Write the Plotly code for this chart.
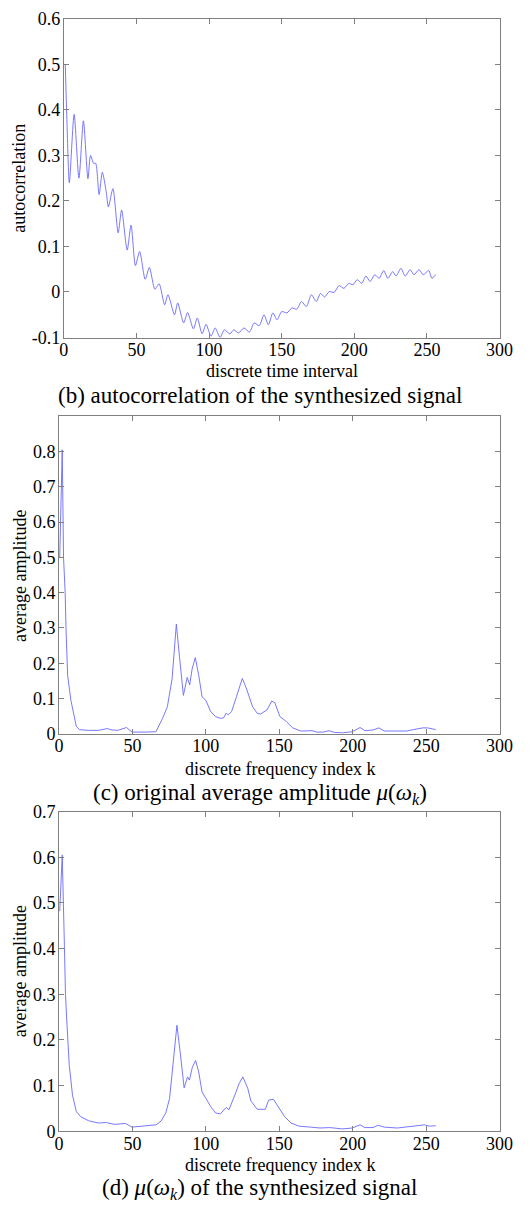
import plotly.graph_objects as go

# (b) autocorrelation of the synthesized signal: lag vs value at turning points
lag_b = [1, 2.2, 3.8, 7.1, 10.4, 13.5, 16.6, 18.4, 20.6, 21.9, 24.3, 26.5, 29.2, 30.7,
         33.8, 37.4, 39.8, 43.6, 46.3, 49.3, 52.2, 56, 58.9, 62.7, 65.6, 69.4, 71.7,
         76.2, 78.4, 82.5, 85.2, 89.2, 91.9, 95.2, 97.9, 101.3, 104.2, 107.6, 110.5,
         114.3, 117, 120.3, 124, 127.8, 131, 134.5, 137.8, 140.8, 143.9, 146.8, 150,
         153.6, 157, 160.3, 163.6, 167, 170.4, 173.8, 176.7, 179.5, 182.7, 186, 189.5,
         192.8, 196.2, 199, 202, 205, 208, 210.8, 214.1, 217, 220.2, 223.1, 226.5,
         228.7, 232.1, 235, 238.4, 241.1, 244.5, 247.4, 251.2, 253.4, 256]
acf_b = [0.50, 0.37, 0.24, 0.39, 0.25, 0.376, 0.249, 0.30, 0.282, 0.283, 0.214, 0.263,
         0.22, 0.187, 0.227, 0.130, 0.18, 0.092, 0.147, 0.058, 0.089, 0.028, 0.054,
         0.006, 0.018, -0.028, -0.006, -0.050, -0.024, -0.068, -0.045, -0.081, -0.057,
         -0.092, -0.071, -0.097, -0.079, -0.100, -0.083, -0.092, -0.083, -0.090,
         -0.079, -0.088, -0.068, -0.074, -0.050, -0.072, -0.046, -0.061, -0.043,
         -0.046, -0.035, -0.038, -0.021, -0.032, -0.006, -0.021, -0.003, -0.011,
         0.001, -0.001, 0.014, 0.008, 0.019, 0.016, 0.027, 0.019, 0.035, 0.023, 0.038,
         0.030, 0.047, 0.030, 0.045, 0.035, 0.052, 0.035, 0.049, 0.038, 0.049, 0.038,
         0.047, 0.030, 0.038]

# (c) original average amplitude mu(omega_k)
k_c = [0.5, 2.2, 3.1, 4.2, 4.8, 5.9, 8.1, 9.6, 11.8, 14, 20, 27, 32.8, 36, 40, 46,
       49.7, 58, 66, 70.5, 73.8, 77, 79.9, 82, 84.7, 87.3, 89, 90.6, 92.8, 95.2,
       97.4, 100, 103.3, 106.6, 109.9, 112, 113.8, 115.3, 117.5, 120.8, 124.8, 127.5,
       131.8, 135, 137.2, 141.6, 144.9, 147, 150.4, 154.8, 159.1, 164.6, 172.3,
       175.6, 180, 183.9, 187.6, 193, 199.6, 205, 208.3, 213.8, 217.8, 221.5, 236.8,
       241.2, 247.8, 251, 256.5]
amp_c = [0.50, 0.805, 0.50, 0.40, 0.294, 0.165, 0.095, 0.068, 0.021, 0.012, 0.010,
         0.010, 0.015, 0.011, 0.010, 0.018, 0.005, 0.005, 0.006, 0.044, 0.077, 0.156,
         0.311, 0.22, 0.109, 0.16, 0.139, 0.183, 0.216, 0.165, 0.105, 0.095, 0.063,
         0.049, 0.044, 0.045, 0.058, 0.054, 0.063, 0.105, 0.157, 0.13, 0.077, 0.058,
         0.056, 0.068, 0.093, 0.088, 0.049, 0.035, 0.017, 0.008, 0.009, 0.005, 0.005,
         0.009, 0.004, 0.003, 0.006, 0.018, 0.009, 0.011, 0.017, 0.008, 0.008, 0.012,
         0.017, 0.017, 0.012]

# (d) average amplitude of the synthesized signal
k_d = [0.5, 2.2, 3.7, 4.4, 5.5, 7, 9.2, 11.8, 14.7, 20.1, 26.7, 32.2, 37.6, 45.3,
       49.7, 57.3, 66.1, 69.4, 72.7, 75.3, 77.5, 80.3, 82.5, 85.2, 87.5, 88.8, 90.8,
       93, 95.1, 97.4, 100, 103.3, 106.6, 109.9, 113.8, 115.7, 119.7, 122.6, 125.2,
       128.5, 130.7, 135, 140.5, 142.7, 146, 149.3, 153.6, 158, 163.5, 171.2, 177.7,
       184.3, 193, 199.6, 205, 208.3, 213.8, 217.1, 221.5, 230.3, 236.8, 243.4,
       248.9, 252.2, 256.5]
amp_d = [0.482, 0.605, 0.404, 0.302, 0.23, 0.144, 0.079, 0.043, 0.032, 0.023, 0.018,
         0.019, 0.015, 0.017, 0.009, 0.011, 0.014, 0.022, 0.040, 0.072, 0.144, 0.232,
         0.173, 0.095, 0.119, 0.112, 0.14, 0.155, 0.13, 0.086, 0.072, 0.054, 0.040,
         0.038, 0.052, 0.047, 0.079, 0.104, 0.119, 0.094, 0.066, 0.048, 0.048, 0.068,
         0.07, 0.054, 0.032, 0.018, 0.011, 0.009, 0.007, 0.008, 0.005, 0.007, 0.014,
         0.008, 0.008, 0.013, 0.009, 0.007, 0.009, 0.011, 0.014, 0.011, 0.012]

x_ticks = [0, 50, 100, 150, 200, 250, 300]
y_ticks_b = [-0.1, 0, 0.1, 0.2, 0.3, 0.4, 0.5, 0.6]
y_ticks_c = [0, 0.1, 0.2, 0.3, 0.4, 0.5, 0.6, 0.7, 0.8]
y_ticks_d = [0, 0.1, 0.2, 0.3, 0.4, 0.5, 0.6, 0.7]

W, H = 530, 1214
FONT = "Liberation Serif"
LINE = "rgb(105,105,255)"
AXIS = "rgb(128,128,128)"
TICK_SIZE = 18
TITLE_SIZE = 18
CAPTION_SIZE = 23


def px_x(p):
    return p / W


def px_y(p):
    return 1 - p / H


def label(v):
    return "0" if v == 0 else "%g" % v


def xaxis(domain, anchor):
    return dict(domain=domain, anchor=anchor, range=[0, 300], tickvals=x_ticks,
                ticktext=[str(v) for v in x_ticks], ticks="inside", ticklen=5,
                tickcolor=AXIS, showline=True, linecolor=AXIS, linewidth=1,
                mirror="ticks", showgrid=False, zeroline=False, ticklabelstandoff=-4,
                tickfont=dict(family=FONT, size=TICK_SIZE, color="black"))


def yaxis(domain, anchor, rng, vals):
    return dict(domain=domain, anchor=anchor, range=rng, tickvals=vals,
                ticktext=[label(v) for v in vals], ticks="inside", ticklen=5,
                tickcolor=AXIS, showline=True, linecolor=AXIS, linewidth=1,
                mirror="ticks", showgrid=False, zeroline=False, ticklabelstandoff=-1,
                tickfont=dict(family=FONT, size=TICK_SIZE, color="black"))


fig = go.Figure()
fig.add_trace(go.Scatter(x=lag_b, y=acf_b, mode="lines", xaxis="x", yaxis="y",
                         line=dict(color=LINE, width=0.9, shape="spline", smoothing=0.7)))
fig.add_trace(go.Scatter(x=k_c, y=amp_c, mode="lines", xaxis="x2", yaxis="y2",
                         line=dict(color=LINE, width=0.9)))
fig.add_trace(go.Scatter(x=k_d, y=amp_d, mode="lines", xaxis="x3", yaxis="y3",
                         line=dict(color=LINE, width=0.9)))

panels = [
    # (left, right, top, bottom) in pixels
    (61, 513, 9, 333),
    (56, 513, 413, 736),
    (56, 513, 815, 1140),
]
dom = [([px_x(l), px_x(r)], [px_y(b), px_y(t)]) for l, r, t, b in panels]

fig.update_layout(
    width=W, height=H, margin=dict(l=0, r=0, t=0, b=0),
    paper_bgcolor="white", plot_bgcolor="white", showlegend=False,
    xaxis=xaxis(dom[0][0], "y"), yaxis=yaxis(dom[0][1], "x", [-0.1, 0.6], y_ticks_b),
    xaxis2=xaxis(dom[1][0], "y2"), yaxis2=yaxis(dom[1][1], "x2", [0, 0.9], y_ticks_c),
    xaxis3=xaxis(dom[2][0], "y3"), yaxis3=yaxis(dom[2][1], "x3", [0, 0.7], y_ticks_d),
)

texts = [
    # (text, x_px, y_px, size, angle)
    ("discrete time interval", 287, 367, TITLE_SIZE, 0),
    ("(b) autocorrelation of the synthesized signal", 264, 392, CAPTION_SIZE, 0),
    ("autocorrelation", 15, 171, TITLE_SIZE, -90),
    ("discrete frequency index k", 285, 772, TITLE_SIZE, 0),
    ("(c) original average amplitude <i>\u03bc</i>(<i>\u03c9<sub>k</sub></i>)", 264, 797, CAPTION_SIZE, 0),
    ("average amplitude", 15, 575, TITLE_SIZE, -90),
    ("discrete frequency index k", 285, 1174, TITLE_SIZE, 0),
    ("(d) <i>\u03bc</i>(<i>\u03c9<sub>k</sub></i>) of the synthesized signal", 264, 1199, CAPTION_SIZE, 0),
    ("average amplitude", 15, 977, TITLE_SIZE, -90),
]
for t, xp, yp, s, ang in texts:
    fig.add_annotation(text=t, x=px_x(xp), y=px_y(yp), xref="paper", yref="paper",
                       xanchor="center", yanchor="middle", showarrow=False,
                       textangle=ang, font=dict(family=FONT, size=s, color="black"))

fig.write_html("out.html")
